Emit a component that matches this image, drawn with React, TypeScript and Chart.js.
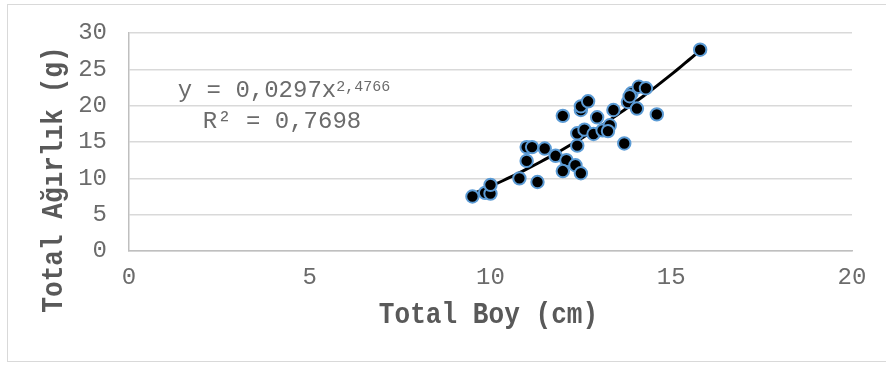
import React, { useEffect, useRef } from "react";
import { Chart, registerables } from "chart.js";

Chart.register(...registerables);

// Length (cm) and weight (g) of each measured fish
const totalBoy: number[] = [
  9.5, 9.85, 10.0, 10.0, 10.8, 11.3, 11.0, 11.0, 11.15, 11.5, 11.8, 12.1,
  12.0, 12.35, 12.5, 12.4, 12.4, 12.6, 12.0, 12.5, 12.5, 12.7, 12.95, 12.85,
  13.1, 13.3, 13.25, 13.4, 13.7, 13.8, 13.9, 14.05, 14.1, 14.3, 14.6, 15.8,
  13.85,
];
const totalAgirlik: number[] = [
  7.5, 8.0, 7.9, 9.1, 10.0, 9.5, 12.4, 14.3, 14.3, 14.1, 13.1, 12.5,
  11.0, 11.8, 10.7, 14.5, 16.2, 16.7, 18.6, 19.4, 19.9, 20.6, 18.4, 16.1,
  16.6, 17.3, 16.5, 19.4, 14.8, 20.5, 21.7, 19.6, 22.6, 22.4, 18.8, 27.7,
  21.3,
];

// Power trendline y = a * x^b
const fitA = 0.0297;
const fitB = 2.4766;
const fitR2 = 0.7698;

const xTicks: number[] = [0, 5, 10, 15, 20];
const yTicks: number[] = [0, 5, 10, 15, 20, 25, 30];

const xTitle = "Total Boy (cm)";
const yTitle = "Total Ağırlık (g)";

const MONO = "'Liberation Mono', 'Courier New', monospace";
const TEXT = "#595959";
const TEXT_LIGHT = "#6b6b6b";

const fmt = (v: number, d: number) => v.toFixed(d).replace(".", ",");

const overlay = {
  id: "overlay",
  afterDraw(chart: Chart) {
    const ctx = chart.ctx;
    ctx.save();
    // outer frame
    ctx.strokeStyle = "#d9d9d9";
    ctx.lineWidth = 1;
    ctx.strokeRect(7.5, 4.5, 900, 357);

    // axis titles, slightly condensed bold mono
    ctx.fillStyle = TEXT;
    ctx.font = `bold 30px ${MONO}`;
    ctx.textAlign = "center";
    ctx.textBaseline = "alphabetic";
    const area = chart.chartArea;
    ctx.save();
    ctx.translate((area.left + area.right) / 2 - 2, 323);
    ctx.scale(0.87, 1);
    ctx.fillText(xTitle, 0, 0);
    ctx.restore();

    ctx.save();
    ctx.translate(62, 179.5);
    ctx.rotate(-Math.PI / 2);
    ctx.scale(0.87, 1);
    ctx.fillText(yTitle, 0, 0);
    ctx.restore();

    // trendline equation
    ctx.fillStyle = TEXT_LIGHT;
    const cx = 284;
    const main = `y = ${fmt(fitA, 4)}x`;
    const sup = fmt(fitB, 4);
    ctx.textAlign = "left";
    ctx.font = `24px ${MONO}`;
    const wMain = ctx.measureText(main).width;
    ctx.font = `15px ${MONO}`;
    const wSup = ctx.measureText(sup).width;
    const x0 = cx - (wMain + wSup) / 2;
    ctx.font = `24px ${MONO}`;
    ctx.fillText(main, x0, 97);
    ctx.font = `15px ${MONO}`;
    ctx.fillText(sup, x0 + wMain, 91);
    ctx.font = `24px ${MONO}`;
    ctx.textAlign = "center";
    ctx.fillText(`R² = ${fmt(fitR2, 4)}`, cx - 2, 128);
    ctx.restore();
  },
};

export default function App() {
  const ref = useRef<HTMLCanvasElement | null>(null);

  useEffect(() => {
    document.body.style.margin = "0";
    if (!ref.current) return;

    const points = totalBoy.map((x, i) => ({ x, y: totalAgirlik[i] }));
    const xMin = Math.min(...totalBoy);
    const xMax = Math.max(...totalBoy);
    const curve: { x: number; y: number }[] = [];
    const steps = 60;
    for (let i = 0; i <= steps; i++) {
      const x = xMin + ((xMax - xMin) * i) / steps;
      curve.push({ x, y: fitA * Math.pow(x, fitB) });
    }

    const chart = new Chart(ref.current, {
      type: "scatter",
      data: {
        datasets: [
          {
            label: "Ölçümler",
            data: points,
            backgroundColor: "#000000",
            borderColor: "#5B9BD5",
            borderWidth: 2,
            pointRadius: 6.2,
            order: 1,
          },
          {
            type: "line",
            label: "Trend",
            data: curve,
            borderColor: "#000000",
            borderWidth: 3,
            pointRadius: 0,
            showLine: true,
            fill: false,
            tension: 0,
            order: 2,
          } as any,
        ],
      },
      options: {
        animation: false,
        responsive: false,
        devicePixelRatio: 1,
        layout: { padding: { left: 0, top: 33, right: 34, bottom: 0 } },
        plugins: {
          legend: { display: false },
          tooltip: { enabled: false },
          title: { display: false },
        },
        scales: {
          x: {
            type: "linear",
            min: 0,
            max: 20,
            afterBuildTicks: (s: any) => {
              s.ticks = xTicks.map((v) => ({ value: v }));
            },
            afterFit: (s: any) => {
              s.height = 114;
              s.paddingLeft = 0;
              s.paddingRight = 0;
            },
            grid: { color: "rgba(0,0,0,0)", drawTicks: false },
            border: { display: true, color: "#bfbfbf", width: 1.5 },
            ticks: {
              padding: 12,
              color: TEXT_LIGHT,
              font: { family: MONO, size: 24 },
              maxRotation: 0,
            },
          },
          y: {
            type: "linear",
            min: 0,
            max: 30,
            afterBuildTicks: (s: any) => {
              s.ticks = yTicks.map((v) => ({ value: v }));
            },
            afterFit: (s: any) => {
              s.width = 129;
              s.paddingTop = 0;
              s.paddingBottom = 0;
            },
            grid: { color: "#d9d9d9", lineWidth: 1.5, drawTicks: false },
            border: { display: true, color: "#bfbfbf", width: 1.5 },
            ticks: {
              padding: 22,
              color: TEXT_LIGHT,
              font: { family: MONO, size: 24 },
            },
          },
        },
      },
      plugins: [overlay],
    });

    return () => chart.destroy();
  }, []);

  return <canvas ref={ref} width={886} height={365} style={{ display: "block" }} />;
}
